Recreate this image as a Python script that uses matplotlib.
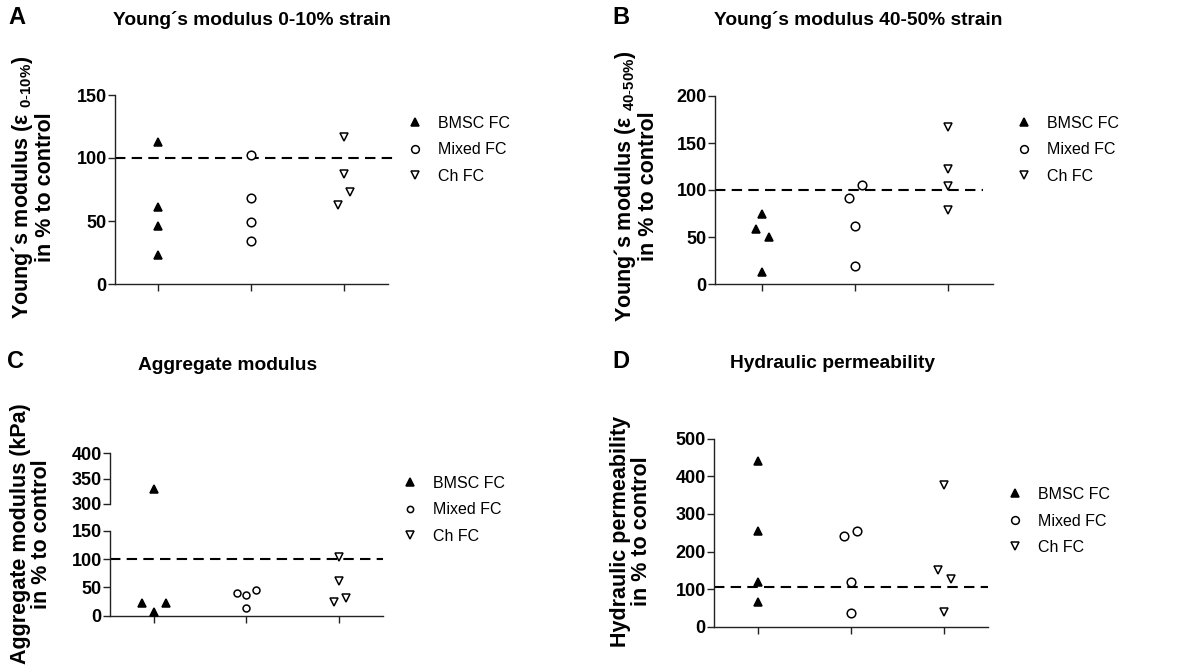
import matplotlib
matplotlib.use("Agg")
import matplotlib.pyplot as plt

plt.rcParams['font.family'] = ['Liberation Sans', 'DejaVu Sans']
plt.rcParams['mathtext.fontset'] = 'custom'
plt.rcParams['mathtext.rm'] = 'Liberation Sans'
plt.rcParams['mathtext.default'] = 'regular'

W, H = 1200, 672

groups = ["BMSC FC", "Mixed FC", "Ch FC"]

# Panel A: Young's modulus 0-10% strain
a_bmsc = [113, 61, 46, 23]
a_mixed = [102, 68, 49, 34]
a_ch = [117, 87, 73, 63]
a_bmsc_jit = [0, 0, 0, 0]
a_mixed_jit = [0, 0, 0, 0]
a_ch_jit = [0, 0, 0.06, -0.07]

# Panel B: Young's modulus 40-50% strain
b_bmsc = [75, 59, 50, 13]
b_mixed = [105, 92, 62, 19]
b_ch = [167, 122, 104, 79]
b_bmsc_jit = [0, -0.07, 0.07, 0]
b_mixed_jit = [0.07, -0.065, 0, 0]
b_ch_jit = [0, 0, 0, 0]

# Panel C: Aggregate modulus
c_bmsc = [329, 23, 7, 22]
c_mixed = [40, 36, 46, 13]
c_ch = [104, 62, 25, 31]
c_bmsc_jit = [0, -0.13, 0, 0.13]
c_mixed_jit = [-0.1, 0, 0.1, 0]
c_ch_jit = [0, 0, -0.06, 0.07]

# Panel D: Hydraulic permeability
d_bmsc = [441, 255, 118, 65]
d_mixed = [242, 254, 118, 36]
d_ch = [377, 151, 126, 40]
d_bmsc_jit = [0, 0, 0, 0]
d_mixed_jit = [-0.07, 0.065, 0, 0]
d_ch_jit = [0, -0.065, 0.07, 0]

control = [100, 100, 100, 105]

# broken axis segments for panel C
c_low = (0, 150)
c_high = (300, 400)

styles = [dict(marker='^', mfc='black', mec='black'),
          dict(marker='o', mfc='white', mec='black'),
          dict(marker='v', mfc='white', mec='black')]

fig = plt.figure(figsize=(W / 100, H / 100), dpi=100)


def rect(l, t, r, b):
    return [l / W, 1 - b / H, (r - l) / W, (b - t) / H]


def style_axes(ax, xaxis=True):
    for s in ['top', 'right']:
        ax.spines[s].set_visible(False)
    for s in ['left', 'bottom']:
        ax.spines[s].set_color('#222222')
        ax.spines[s].set_linewidth(1.0)
    ax.tick_params(axis='y', direction='out', length=5, width=1.0, color='#222222',
                   pad=1.0, labelsize=13)
    for lbl in ax.get_yticklabels():
        lbl.set_fontweight('bold')
    if xaxis:
        ax.set_xticks([1, 2, 3])
        ax.set_xticklabels([])
        ax.tick_params(axis='x', direction='out', length=5, width=1.0, color='#222222')
    else:
        ax.spines['bottom'].set_visible(False)
        ax.set_xticks([])


def scatter(ax, series, jits, sizes=(6.2, 6.2, 6.2), yrange=None):
    handles = []
    for i, (vals, jit) in enumerate(zip(series, jits)):
        pts = [(i + 1 + j, v) for j, v in zip(jit, vals)
               if yrange is None or yrange[0] <= v <= yrange[1]]
        xs = [p[0] for p in pts]
        ys = [p[1] for p in pts]
        st = styles[i]
        h, = ax.plot(xs, ys, linestyle='none', marker=st['marker'], markersize=sizes[i],
                     markerfacecolor=st['mfc'], markeredgecolor=st['mec'],
                     markeredgewidth=1.1, label=groups[i], clip_on=False, zorder=3)
        handles.append(h)
    return handles


def dashed(ax, y, xmax=1.0):
    ax.axhline(y, xmin=0, xmax=xmax, color='black', lw=1.5, dashes=(5, 3),
               clip_on=False, zorder=2)


def legend(handles, x, y):
    leg = fig.legend(handles=handles, loc='upper left',
                     bbox_to_anchor=(x / W, 1 - y / H), frameon=False,
                     fontsize=11.5, handlelength=0.9, handletextpad=0.95,
                     labelspacing=0.72, borderpad=0, borderaxespad=0, markerscale=0.9)
    return leg


def ylab(text, x, y):
    fig.text(x / W, 1 - y / H, text, rotation=90, ha='center', va='center',
             fontsize=15.5, fontweight='bold', multialignment='center',
             linespacing=1.0)


# ---- Panel A ----
axA = fig.add_axes(rect(115, 95, 388, 284))
hA = scatter(axA, [a_bmsc, a_mixed, a_ch], [a_bmsc_jit, a_mixed_jit, a_ch_jit])
axA.set_xlim(0.54, 3.47)
axA.set_ylim(0, 150)
axA.set_yticks([0, 50, 100, 150])
style_axes(axA)
dashed(axA, control[0], 1.02)
legend(hA, 408, 116)
fig.text(252 / W, 1 - 20 / H, "Young´s modulus 0-10% strain", ha='center', va='center',
         fontsize=13.8, fontweight='bold')
fig.text(8 / W, 1 - 18 / H, "A", ha='left', va='center', fontsize=17, fontweight='bold')
ylab("Young´s modulus (ε $_{0\\text{-}10\\%}$)\nin % to control", 33, 187)

# ---- Panel B ----
axB = fig.add_axes(rect(715, 96, 993, 284))
hB = scatter(axB, [b_bmsc, b_mixed, b_ch], [b_bmsc_jit, b_mixed_jit, b_ch_jit])
axB.set_xlim(0.495, 3.48)
axB.set_ylim(0, 200)
axB.set_yticks([0, 50, 100, 150, 200])
style_axes(axB)
dashed(axB, control[1], 0.965)
legend(hB, 1017, 116)
fig.text(858 / W, 1 - 20 / H, "Young´s modulus 40-50% strain", ha='center', va='center',
         fontsize=13.8, fontweight='bold')
fig.text(612 / W, 1 - 18 / H, "B", ha='left', va='center', fontsize=17, fontweight='bold')
ylab("Young´s modulus (ε $_{40\\text{-}50\\%}$)\nin % to control", 636, 186)

# ---- Panel C (broken axis) ----
axC = fig.add_axes(rect(110, 530.7, 383, 615.7))
axCt = fig.add_axes(rect(110, 453.3, 383, 504))
c_series = [c_bmsc, c_mixed, c_ch]
c_jits = [c_bmsc_jit, c_mixed_jit, c_ch_jit]
hC = scatter(axC, c_series, c_jits, sizes=(6.2, 5.0, 6.2), yrange=c_low)
scatter(axCt, c_series, c_jits, sizes=(6.2, 5.0, 6.2), yrange=c_high)
for ax in (axC, axCt):
    ax.set_xlim(0.53, 3.47)
axC.set_ylim(*c_low)
axC.set_yticks([0, 50, 100, 150])
axCt.set_ylim(*c_high)
axCt.set_yticks([300, 350, 400])
style_axes(axC)
style_axes(axCt, xaxis=False)
axCt.patch.set_visible(False)
axC.patch.set_visible(False)
dashed(axC, control[2], 1.0)
legend(hC, 403, 476)
fig.text(228 / W, 1 - 365 / H, "Aggregate modulus", ha='center', va='center',
         fontsize=13.8, fontweight='bold')
fig.text(7 / W, 1 - 362 / H, "C", ha='left', va='center', fontsize=17, fontweight='bold')
ylab("Aggregate modulus (kPa)\nin % to control", 31, 534)

# ---- Panel D ----
axD = fig.add_axes(rect(714, 438.7, 988, 626.7))
hD = scatter(axD, [d_bmsc, d_mixed, d_ch], [d_bmsc_jit, d_mixed_jit, d_ch_jit])
axD.set_xlim(0.53, 3.47)
axD.set_ylim(0, 500)
axD.set_yticks([0, 100, 200, 300, 400, 500])
style_axes(axD)
dashed(axD, control[3], 1.0)
legend(hD, 1008, 487)
fig.text(832 / W, 1 - 363 / H, "Hydraulic permeability", ha='center', va='center',
         fontsize=13.8, fontweight='bold')
fig.text(612 / W, 1 - 362 / H, "D", ha='left', va='center', fontsize=17, fontweight='bold')
ylab("Hydraulic permeability\nin % to control", 631, 531)

fig.savefig("out.png", dpi=100)
